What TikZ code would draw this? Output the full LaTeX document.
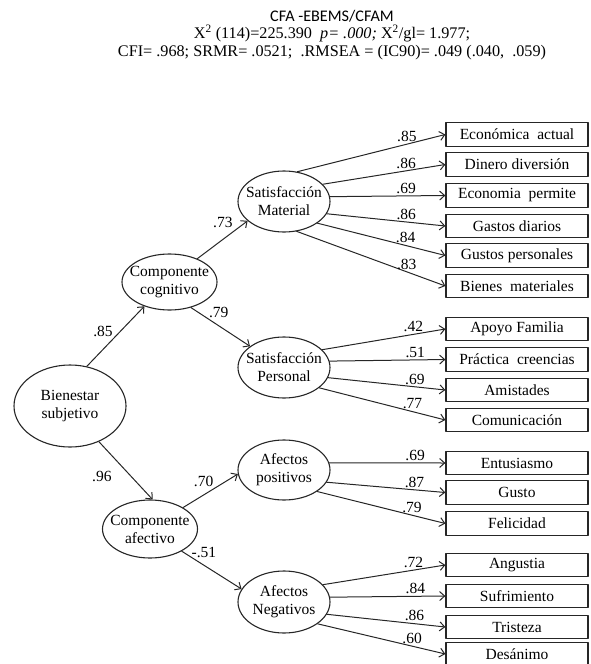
\documentclass[tikz,border=0pt]{standalone}
\usepackage{fontspec}
\setmainfont{Liberation Serif}
\newfontfamily\cfafont{Carlito}
\usetikzlibrary{shapes.geometric,arrows.meta}

\begin{document}
\begin{tikzpicture}[x=1pt,y=-1pt,>={Straight Barb[length=5pt,width=9pt]}, line join=round, line cap=round,
	font=\fontsize{15.5}{18}\selectfont,
	lat/.style={draw=black!85,ellipse,line width=1.1pt,inner xsep=-7pt,inner ysep=0pt,minimum width=92pt,minimum height=61pt,align=center},
	obs/.style={draw=black!85,rectangle,line width=1.3pt,inner sep=0pt,minimum width=142pt,minimum height=23.5pt},
	lnk/.style={->,draw=black!85,line width=1pt},
	carga/.style={inner sep=0pt}]
		\def\bx{517} % columna de indicadores
		\useasboundingbox (0,0) rectangle (590,664);
		\node[align=center, font=\fontsize{16.2}{17.2}\selectfont] (ttl) at (332,35) {{\cfafont CFA -EBEMS/CFAM}\\
			X\textsuperscript{2} (114)=225.390~~\textit{p= .000;} X\textsuperscript{2}/gl= 1.977;\\
			CFI= .968; SRMR= .0521;~~.RMSEA = (IC90)= .049 (.040,~~.059)};
		% factores
		\node[lat, minimum width=112pt, minimum height=82pt] (bs) at (70,406) {Bienestar\\subjetivo};
		\node[lat, minimum width=95pt, minimum height=56pt] (cc) at (169.5,282) {Componente\\cognitivo};
		\node[lat, minimum width=95pt, minimum height=58pt] (ca) at (150,529) {Componente\\afectivo};
		\node[lat] (sm) at (284,201.5) {Satisfacción\\Material};
		\node[lat] (sp) at (284,367.5) {Satisfacción\\Personal};
		\node[lat, minimum height=60pt] (ap) at (284,470) {Afectos\\positivos};
		\node[lat, minimum height=62pt] (an) at (284,602) {Afectos\\Negativos};
		% indicadores
		\foreach \n/\y/\t in {m1/134.5/Económica~~actual, m2/164.5/Dinero diversión, m3/195.5/Economia~~permite,
			m4/226/Gastos diarios, m5/255.5/Gustos personales, m6/286/Bienes~~materiales,
			p1/329/Apoyo Familia, p2/359.5/Práctica~~creencias, p3/390/Amistades, p4/420/Comunicación,
			a1/463/Entusiasmo, a2/492.5/Gusto, a3/523.5/Felicidad,
			n1/565/Angustia, n2/596/Sufrimiento, n3/627/Tristeza, n4/654/Desánimo}
			\node[obs] (\n) at (\bx,\y) {\t};
		% cargas factoriales
		\foreach \f/\a/\n/\v/\p in {sm/66/m1/.85/.74, sm/24/m2/.86/.68, sm/6/m3/.69/.66,
			sm/344/m4/.86/.67, sm/327/m5/.84/.69, sm/293/m6/.83/.74,
			sp/25/p1/.42/.74, sp/8/p2/.51/.74, sp/347/p3/.69/.74, sp/330/p4/.77/.74,
			ap/9/a1/.69/.74, ap/344/a2/.87/.74, ap/327/a3/.79/.74,
			an/24/n1/.72/.74, an/6/n2/.84/.74, an/344/n3/.86/.74, an/327/n4/.60/.74}
			\draw[lnk] (\f.\a) -- node[carga, pos=\p, above=2pt]{\v} (\n.west);
		% segundo orden
		\draw[lnk] (bs.67) -- node[carga, pos=.58, left=7pt]{.85} (cc.224);
		\draw[lnk] (bs.309) -- node[carga, pos=.6, left=19pt]{.96} (ca.85);
		\draw[lnk] (cc.40) -- node[carga, pos=.95, left=12pt]{.73} (sm.208);
		\draw[lnk] (cc.310) -- node[carga, pos=.47, above=8pt]{.79} (sp.148);
		\draw[lnk] (ca.33) -- node[carga, pos=.375, above=8pt]{.70} (ap.185);
		\draw[lnk] (ca.325) -- node[carga, pos=.37, above=7pt]{-.51} (an.163);
	\end{tikzpicture}
\end{document}
